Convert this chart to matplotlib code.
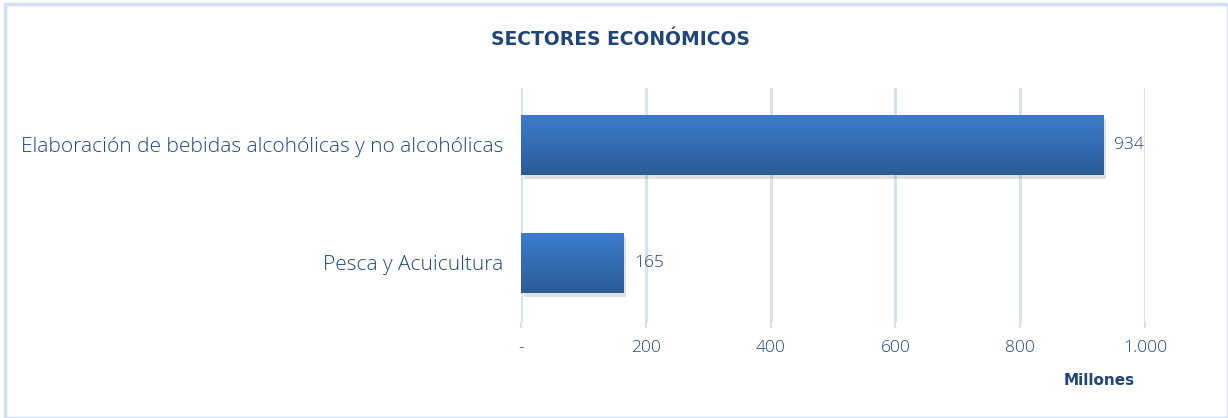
import numpy as np
import matplotlib.pyplot as plt
from matplotlib.patches import Rectangle
from matplotlib.colors import LinearSegmentedColormap
from matplotlib.ticker import FuncFormatter

# datos
sectores = ["Pesca y Acuicultura",
            "Elaboración de bebidas alcohólicas y no alcohólicas"]
valores = [165, 934]
ticks_x = [0, 200, 400, 600, 800, 1000]

titulo_color = "#1f4677"
texto = "#1e4880"
grid_color = "#d6e1f0"
fuente = ["Open Sans", "DejaVu Sans"]

fig = plt.figure(figsize=(12.28, 4.18), dpi=100)
fig.patches.append(Rectangle((0.004, 0.0), 0.996, 0.99, transform=fig.transFigure,
                             fill=False, edgecolor="#d3e0f1", linewidth=2.5))

ax = fig.add_axes([0.4243, 0.2297, 0.5081, 0.5598])

alto = 0.51
grad = np.linspace(0, 1, 100).reshape(-1, 1)
cmap = LinearSegmentedColormap.from_list("barra", ["#2c5b97", "#3b7dcc"])

for i, v in enumerate(valores):
    # sombra
    ax.add_patch(Rectangle((4, i - alto / 2 - 0.035), v, alto, facecolor="#000000",
                           alpha=0.12, edgecolor="none", zorder=2))
    barra = ax.barh(i, v, height=alto, color="none", zorder=3)[0]
    im = ax.imshow(grad, cmap=cmap, aspect="auto", origin="lower",
                   extent=[0, v, i - alto / 2, i + alto / 2], zorder=3)
    im.set_clip_path(barra)
    ax.text(v + 16, i, f"{v}", va="center", ha="left", fontsize=12.5,
            color=texto, family=fuente, fontweight="light")

ax.set_xlim(0, 1000)
ax.set_ylim(-0.5, 1.48)
ax.set_yticks(range(len(sectores)))
ax.set_yticklabels(sectores, fontsize=15, color=texto, family=fuente,
                   fontweight="light")
ax.set_xticks(ticks_x)
ax.xaxis.set_major_formatter(FuncFormatter(
    lambda x, p: "-" if x == 0 else f"{int(x):,}".replace(",", ".")))
for lbl in ax.get_xticklabels():
    lbl.set_family(fuente)
    lbl.set_fontweight("light")
ax.tick_params(axis="x", labelsize=12.5, colors=texto, length=4, color=grid_color,
               width=1.5, pad=9)
ax.tick_params(axis="y", length=0, pad=13)
ax.grid(axis="x", color=grid_color, linewidth=2)
ax.set_axisbelow(True)
for s in ax.spines.values():
    s.set_visible(False)

fig.text(0.505, 0.905, "SECTORES ECONÓMICOS", ha="center", va="center",
         fontsize=13.5, fontweight="bold", color=titulo_color)
fig.text(0.895, 0.09, "Millones", ha="center", va="center",
         fontsize=11, fontweight="bold", color=titulo_color)

fig.savefig("out.png", dpi=100)
